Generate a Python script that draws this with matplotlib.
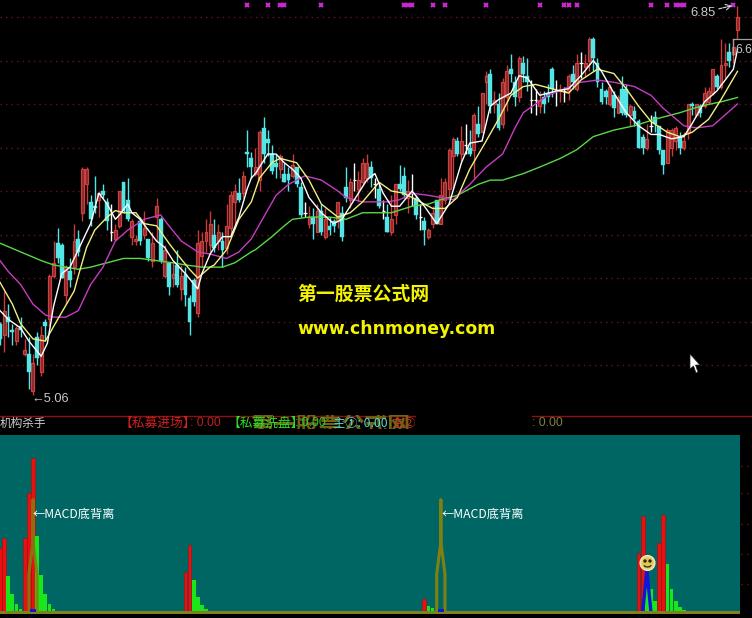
import numpy as np
import matplotlib
matplotlib.use('Agg')
import matplotlib.pyplot as plt
from matplotlib.patches import Circle, Polygon, Arc, Rectangle

plt.rcParams['font.family'] = ['Liberation Sans', 'Noto Sans CJK SC', 'DejaVu Sans']

# candles
opens = [5.39,5.34,5.42,5.36,5.31,5.38,5.25,5.25,5.08,5.33,5.17,5.40,5.41,5.61,5.76,5.75,5.52,5.63,5.65,5.78,
         5.90,6.03,5.95,5.93,5.96,6.00,5.95,5.81,5.78,5.84,6.04,5.96,5.79,5.77,5.86,5.80,5.78,5.68,5.88,5.87,
         5.61,5.67,5.60,5.66,5.55,5.62,5.51,5.59,5.44,5.70,5.77,5.75,5.80,5.77,5.77,5.74,5.83,5.95,5.99,5.99,
         6.18,6.15,6.08,6.05,6.29,6.24,6.17,6.13,6.10,6.08,6.08,6.07,6.11,6.02,5.90,5.85,5.88,5.81,5.91,5.79,
         5.84,5.86,5.86,5.90,6.02,5.96,6.05,6.01,6.04,6.06,6.11,6.03,6.01,5.91,5.88,5.81,5.89,6.03,6.07,5.97,
         5.99,5.97,5.88,5.86,5.79,5.85,5.96,5.85,5.96,6.01,6.16,6.23,6.17,6.21,6.20,6.19,6.31,6.27,6.50,6.54,
         6.40,6.40,6.31,6.43,6.56,6.50,6.43,6.59,6.53,6.42,6.42,6.39,6.43,6.45,6.56,6.46,6.46,6.46,6.46,6.54,
         6.47,6.59,6.57,6.60,6.70,6.59,6.47,6.46,6.40,6.44,6.36,6.47,6.47,6.35,6.37,6.32,6.25,6.20,6.30,6.34,
         6.30,6.19,6.13,6.20,6.23,6.25,6.20,6.27,6.40,6.35,6.39,6.39,6.41,6.45,6.53,6.48,6.58,6.64,6.63,6.74]
highs = [5.40,5.54,5.48,5.39,5.38,5.42,5.32,5.33,5.25,5.35,5.38,5.41,5.62,5.77,5.83,5.76,5.66,5.69,5.85,5.82,
         6.11,6.11,5.98,6.07,6.00,6.03,5.97,5.94,5.85,6.00,6.04,6.06,5.87,5.80,5.88,5.91,5.78,5.81,5.97,5.88,
         5.75,5.67,5.67,5.73,5.66,5.65,5.52,5.60,5.82,5.81,5.87,5.91,5.87,5.85,5.81,5.94,6.00,6.03,6.06,6.09,
         6.28,6.18,6.20,6.28,6.34,6.28,6.21,6.17,6.17,6.13,6.11,6.17,6.11,6.04,5.95,5.93,5.92,5.94,5.94,5.92,
         5.88,5.87,5.95,5.93,6.11,6.06,6.13,6.09,6.15,6.17,6.14,6.06,6.04,5.96,5.94,5.98,6.03,6.12,6.11,6.05,
         6.08,5.98,5.94,5.88,5.83,5.93,5.96,6.06,6.06,6.20,6.25,6.25,6.30,6.31,6.28,6.36,6.39,6.45,6.55,6.56,
         6.46,6.45,6.52,6.58,6.63,6.53,6.62,6.62,6.61,6.51,6.47,6.46,6.46,6.49,6.57,6.51,6.49,6.48,6.54,6.58,
         6.63,6.64,6.63,6.71,6.71,6.61,6.50,6.47,6.49,6.46,6.44,6.53,6.49,6.40,6.39,6.33,6.26,6.31,6.35,6.37,
         6.30,6.19,6.29,6.29,6.30,6.27,6.27,6.40,6.41,6.40,6.40,6.48,6.48,6.56,6.54,6.70,6.68,6.68,6.70,6.85]
lows = [5.29,5.26,5.33,5.29,5.29,5.33,5.24,5.09,5.06,5.20,5.15,5.31,5.38,5.60,5.67,5.60,5.48,5.56,5.62,5.70,
        5.86,5.94,5.84,5.90,5.88,5.97,5.82,5.77,5.77,5.83,5.90,5.86,5.75,5.75,5.75,5.78,5.68,5.65,5.77,5.67,
        5.60,5.52,5.56,5.56,5.50,5.47,5.34,5.47,5.42,5.65,5.72,5.72,5.72,5.73,5.65,5.71,5.79,5.84,5.95,5.97,
        6.11,6.06,6.07,6.00,6.13,6.16,6.08,6.06,6.06,6.04,6.00,6.06,6.02,5.88,5.88,5.83,5.78,5.81,5.80,5.78,
        5.80,5.81,5.83,5.77,5.95,5.92,6.00,5.95,6.03,6.04,6.02,5.97,5.92,5.87,5.81,5.80,5.85,6.00,5.97,5.90,
        5.93,5.87,5.82,5.75,5.78,5.83,5.85,5.85,5.94,5.97,6.01,6.16,6.14,6.17,6.16,6.06,6.25,6.27,6.40,6.36,
        6.36,6.28,6.29,6.37,6.50,6.39,6.41,6.50,6.46,6.36,6.35,6.36,6.36,6.41,6.43,6.39,6.41,6.41,6.42,6.47,
        6.46,6.52,6.53,6.55,6.55,6.48,6.40,6.40,6.39,6.34,6.36,6.35,6.34,6.30,6.30,6.20,6.17,6.19,6.27,6.27,
        6.17,6.08,6.13,6.16,6.19,6.17,6.19,6.24,6.35,6.34,6.34,6.38,6.40,6.44,6.47,6.47,6.52,6.57,6.59,6.70]
closes = [5.32,5.45,5.40,5.35,5.37,5.36,5.27,5.17,5.21,5.23,5.34,5.38,5.61,5.67,5.69,5.60,5.65,5.59,5.77,5.72,
          6.10,6.10,5.87,5.92,5.99,5.98,5.86,5.81,5.82,6.00,5.91,5.87,5.86,5.78,5.77,5.83,5.69,5.76,5.93,5.68,
          5.73,5.56,5.62,5.57,5.61,5.52,5.40,5.49,5.76,5.77,5.81,5.85,5.74,5.81,5.73,5.84,5.98,6.00,5.96,6.07,
          6.17,6.11,6.11,6.27,6.17,6.22,6.09,6.11,6.16,6.04,6.05,6.12,6.03,5.89,5.90,5.88,5.85,5.91,5.81,5.87,
          5.82,5.84,5.95,5.79,5.97,6.04,6.05,6.05,6.13,6.13,6.06,6.03,5.93,5.91,5.81,5.87,6.03,6.01,5.98,6.00,
          5.99,5.89,5.88,5.82,5.82,5.90,5.85,5.98,6.04,6.19,6.24,6.17,6.23,6.21,6.17,6.35,6.26,6.45,6.53,6.39,
          6.42,6.29,6.50,6.55,6.54,6.43,6.61,6.54,6.50,6.42,6.42,6.42,6.40,6.43,6.47,6.46,6.47,6.46,6.53,6.50,
          6.59,6.59,6.59,6.70,6.61,6.50,6.41,6.43,6.48,6.38,6.43,6.36,6.35,6.39,6.33,6.20,6.20,6.24,6.30,6.31,
          6.19,6.12,6.28,6.28,6.29,6.20,6.23,6.40,6.39,6.40,6.36,6.45,6.46,6.56,6.48,6.58,6.59,6.60,6.66,6.80]

# moving average lines, read at the bends
ma5_x = [0,2,5,7,10,11.5,13,15,17,19,22,24,26,28,29,31,32,34,36,38,40,42,45,48,49,51,52,54,56,58,60,61,62,65,67,69,71,73,75,78,81,83,86,89,91,93,95,97,100,103,106,109,112,114,117,119,121,124,126,128,131,135,138,141,144,146,149,152,155,158,160,163,166,168,171,174,178,179]
ma5 = [5.45,5.41,5.37,5.31,5.24,5.30,5.47,5.62,5.65,5.73,5.85,5.99,5.94,5.87,5.89,5.94,5.90,5.87,5.82,5.77,5.74,5.68,5.62,5.55,5.62,5.71,5.74,5.79,5.79,5.88,6.01,6.06,6.08,6.17,6.17,6.13,6.10,6.06,5.97,5.90,5.85,5.87,5.96,6.05,6.08,5.99,5.93,5.93,6.00,5.93,5.85,5.94,6.13,6.22,6.23,6.39,6.42,6.45,6.53,6.52,6.44,6.46,6.47,6.53,6.60,6.55,6.45,6.36,6.30,6.26,6.26,6.24,6.25,6.31,6.41,6.46,6.56,6.65]
ma10_x = [0,3,5,8,11,14,18,19,21,23,26,28,30,33,35,38,41,43,46,48,51,52,55,58,61,63,66,68,72,75,78,82,85,88,92,95,98,101,105,108,111,114,118,121,124,127,130,134,138,141,145,149,152,155,158,162,165,168,172,175,179]
ma10 = [5.58,5.48,5.39,5.32,5.31,5.41,5.54,5.61,5.74,5.82,5.88,5.91,5.90,5.90,5.85,5.84,5.76,5.71,5.64,5.60,5.65,5.66,5.73,5.87,5.95,6.06,6.13,6.15,6.13,6.05,5.94,5.88,5.90,5.95,6.04,6.00,5.99,5.96,5.92,5.92,5.97,6.10,6.23,6.33,6.44,6.48,6.49,6.47,6.45,6.51,6.56,6.54,6.47,6.39,6.32,6.27,6.25,6.27,6.33,6.42,6.55]
ma30_x = [0,2,5,8,11,13,16,19,22,25,28,31,35,39,41,44,48,51,55,58,61,64,67,70,74,78,82,84,88,94,97,100,104,107,110,114,118,122,125,127,130,133,137,141,145,149,154,158,161,166,169,173,176,179]
ma30 = [5.68,5.63,5.57,5.48,5.43,5.42,5.42,5.45,5.57,5.65,5.77,5.82,5.87,5.89,5.84,5.77,5.72,5.71,5.69,5.72,5.78,5.88,5.98,6.03,6.07,6.05,6.00,5.97,5.95,5.95,5.96,5.99,5.98,5.97,5.96,6.03,6.11,6.17,6.29,6.36,6.40,6.44,6.47,6.50,6.51,6.50,6.48,6.44,6.38,6.30,6.29,6.30,6.35,6.40]
ma60_x = [0,5,10,13,16,19,22,26,30,34,38,42,45,49,54,57,61,62,66,69,71,75,80,84,88,95,100,104,107,111,116,119,122,127,131,136,140,144,149,154,159,165,170,175,179]
ma60 = [5.76,5.72,5.68,5.66,5.65,5.64,5.65,5.67,5.69,5.69,5.68,5.67,5.66,5.65,5.65,5.67,5.72,5.73,5.79,5.84,5.87,5.88,5.88,5.87,5.90,5.90,5.93,5.94,5.96,5.98,6.03,6.05,6.05,6.08,6.11,6.15,6.19,6.25,6.28,6.30,6.33,6.36,6.39,6.41,6.43]

grid_levels = [6.8, 6.6, 6.4, 6.2, 6.0, 5.8, 5.6, 5.4, 5.2]
signal_idx = [60,65,68,69,78,98,99,100,105,108,118,131,137,138,140,158,162,164,165,166,178]

# lower panel
red_idx = [0,1,6,7,8,45,46,103,155,156,160,161]
red_val = [64,74,74,119,154,40,67,13,59,96,69,97]
green_idx = [2,3,4,5,9,10,11,12,13,14,47,48,49,50,51,104,105,157,158,159,162,163,164,165,166]
green_val = [36,18,8,3,76,37,18,8,3,1,32,15,7,3,1,6,4,25,23,11,48,23,11,5,2]
olive_a_x = [7,7,8,8,8,9,9]
olive_b_x = [106,106,107,107,107,108,108]
olive_v = [0,38,70,112,70,38,0]
blue_idx = [8,107]
blue_val = [3,3]
blue_x = [156,157,158]
blue_v = [0,42,0]

fig = plt.figure(figsize=(7.52, 6.18), dpi=100, facecolor='black')
W, H = 752, 618
STEP = 4.12

# price panel covers y 0..415 px
ax = fig.add_axes([0, (H-415)/H, 1, 415/H], facecolor='black')
ax.set_xlim(0, W/STEP)
ax.set_ylim(6.80-398/217.5, 6.80+17/217.5)
ax.axis('off')

for g in grid_levels:
    ax.axhline(g, color='#6a1414', lw=1, ls=(0, (1, 3)), zorder=1)

x = np.arange(len(opens))
o = np.array(opens); h = np.array(highs); l = np.array(lows); c = np.array(closes)
up = c > o
dn = c < o
flat = c == o
ax.vlines(x[up], l[up], h[up], color='#c83c3c', lw=1.0, zorder=2)
ax.vlines(x[dn], l[dn], h[dn], color='#54e6e6', lw=1.0, zorder=2)
ax.vlines(x[flat], l[flat], h[flat], color='white', lw=1.0, zorder=2)
ax.hlines(c[flat], x[flat]-0.4, x[flat]+0.4, color='white', lw=0.9, zorder=2)
ax.bar(x[up], (c-o)[up], bottom=o[up], width=0.72, facecolor='#8a2a2a', edgecolor='#cc4040', lw=0.9, zorder=3)
ax.bar(x[dn], (o-c)[dn], bottom=c[dn], width=0.92, facecolor='#54e6e6', edgecolor='#54e6e6', lw=0.3, zorder=3)

ax.plot(ma60_x, ma60, color='#58d848', lw=1.0, zorder=4)
ax.plot(ma30_x, ma30, color='#c83cc0', lw=1.0, zorder=4)
ax.plot(ma10_x, ma10, color='#f0f080', lw=1.0, zorder=5)
ax.plot(ma5_x, ma5, color='white', lw=1.0, zorder=6)

ax.plot(signal_idx, [6.855]*len(signal_idx), ls='none', marker='x', ms=3.5, mew=1.5, color='#c828d0', zorder=7)

# lower panel
ax2 = fig.add_axes([0, (H-614)/H, 740/W, 179/H], facecolor='#006664')
ax2.set_xlim(0, 740/STEP)
ax2.set_ylim(-2, 177)
ax2.set_xticks([]); ax2.set_yticks([])
for s in ax2.spines.values():
    s.set_visible(False)
ax2.bar(red_idx, red_val, width=0.92, color='#e81010', edgecolor='#a01010', lw=0.4, zorder=2)
ax2.bar(green_idx, green_val, width=0.92, color='#18e818', zorder=2)
ax2.plot(blue_x, blue_v, color='#1018d8', lw=2.4, zorder=3)
ax2.bar(blue_idx, blue_val, width=1.3, color='#1018d8', zorder=5)
ax2.plot(olive_a_x, olive_v, color='#808010', lw=2.2, alpha=0.85, zorder=4)
ax2.plot(olive_b_x, olive_v, color='#808010', lw=2.2, zorder=4)
ax2.axhline(0, color='#808020', lw=2.2, zorder=4)

# overlay in pixel space for labels and furniture
ov = fig.add_axes([0, 0, 1, 1], facecolor='none')
ov.set_xlim(0, W)
ov.set_ylim(H, 0)
ov.axis('off')

ov.plot([0, 415], [415.5, 415.5], color='#8c1010', lw=1)
ov.plot([532, 752], [415.5, 415.5], color='#8c1010', lw=1)
for yy in [466, 493, 524, 554, 584]:
    ov.plot([741, 752], [yy, yy], color='#6a1414', lw=1, ls=(0, (1, 3)))

cjk = ['Noto Sans CJK SC', 'DejaVu Sans']
wm = ov.text(250, 426, '第一股票公式网', color='#6e6414', fontsize=16.5, family=cjk, fontweight='bold', va='center', ha='left')
wm.set_clip_on(True)
wm.set_clip_path(Rectangle((248, 415), 168, 14, transform=ov.transData))

ov.text(0, 423, '机构杀手', color='#d0d0d0', fontsize=8.4, family=cjk, va='center')
ov.text(120, 423.5, '【私募进场】', color='#d02020', fontsize=9.2, family=cjk, va='center')
ov.text(190, 423.5, ': 0.00', color='#c02020', fontsize=8.8, va='center')
ov.text(228, 423.5, '【私募洗盘】', color='#28e028', fontsize=9.2, family=cjk, va='center')
ov.text(295, 423.5, ': 0.00', color='#30c830', fontsize=8.8, va='center')
ov.text(333, 423.5, '主①: 0.00', color='#50d8d8', fontsize=8.8, family=cjk, va='center')
ov.text(391, 423.5, '主②', color='#d03020', fontsize=8.8, family=cjk, va='center')
ov.text(532, 423.5, ': 0.00', color='#808040', fontsize=8.8, va='center')

ov.text(297, 294, '第一股票公式网', color='#f4f400', fontsize=13.6, family=cjk, fontweight='bold', va='center')
ov.text(297, 329, 'www.chnmoney.com', color='#f4f400', fontsize=12.4, family='DejaVu Sans', fontweight='bold', va='center')

ov.text(33, 514, '←MACD底背离', color='white', fontsize=8.8, family=cjk, va='center')
ov.text(442, 514, '←MACD底背离', color='white', fontsize=8.8, family=cjk, va='center')

ov.text(31, 398.5, '←5.06', color='#c8c8c8', fontsize=9.2, va='center')
ov.text(690, 13, '6.85', color='#c8c8c8', fontsize=9.4, va='center')
ov.annotate('', xy=(735, 5), xytext=(716, 9.5), arrowprops=dict(arrowstyle='->', color='#d8d8d8', lw=0.8, ls=(0, (3, 1))))
ov.text(735.5, 50, '6.6', color='#c8c8c8', fontsize=8.8, va='center')
ov.plot([733, 752], [39, 39], color='#a0a0a0', lw=0.9)
ov.plot([733, 733], [39, 55], color='#a0a0a0', lw=0.9)

# smiley
ov.add_patch(Circle((647.5, 563), 7.5, facecolor='#e8d880', edgecolor='#f4f0d0', lw=0.8, zorder=8))
ov.add_patch(Circle((647.5, 563), 5.5, facecolor='#e0c850', edgecolor='none', zorder=8))
ov.add_patch(Circle((645, 561), 1, color='#302810', zorder=9))
ov.add_patch(Circle((650, 561), 1, color='#302810', zorder=9))
ov.add_patch(Arc((647.5, 564), 8, 6, theta1=20, theta2=160, color='#302810', lw=0.9, zorder=9))

# mouse cursor
ov.add_patch(Polygon([(690, 354), (690, 369), (693.5, 366), (696, 373), (698, 372), (695.5, 365), (700, 365)],
                     closed=True, facecolor='white', edgecolor='#202020', lw=0.5, zorder=9))

fig.savefig('out.png', dpi=100, facecolor='black')
